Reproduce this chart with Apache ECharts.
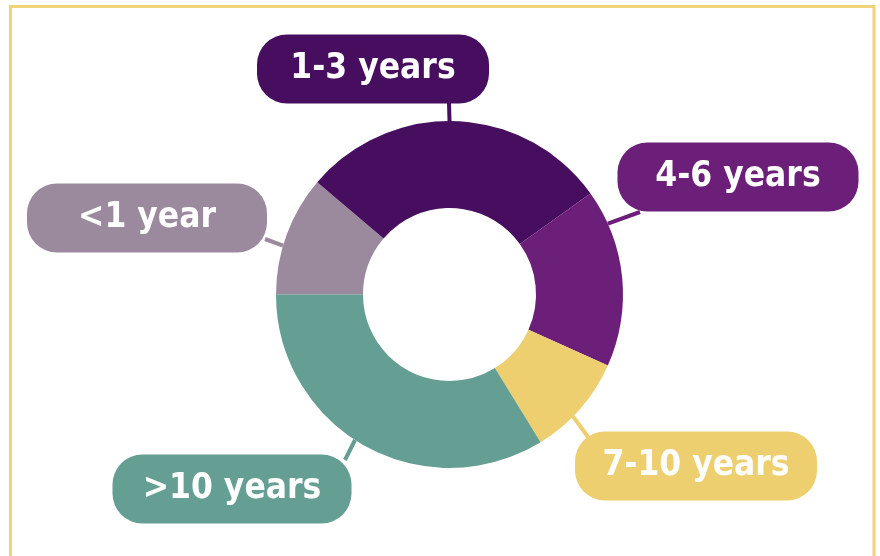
<!DOCTYPE html>
<html>
<head>
<meta charset="utf-8">
<script src="https://cdn.jsdelivr.net/npm/echarts@6/dist/echarts.min.js"></script>
<style>
  html, body { margin: 0; padding: 0; background: #fff; }
  #chart { width: 880px; height: 556px; }
</style>
</head>
<body>
<div id="chart"></div>
<script>
// 数据
var categories = ["<1 year", "1-3 years", "4-6 years", "7-10 years", ">10 years"];
var shares = [11.2, 28.9, 16.6, 9.5, 33.8];
var sliceColors = ["#9b899d", "#470e5f", "#6c1f78", "#edcf6f", "#659e93"];

// 标签框中心位置 / 宽度
var labelCenters = [[147, 218], [373, 69], [738, 177], [696, 466], [232, 489]];
var labelWidths = [240, 232, 241, 242, 239];
// 引导线：圆环外缘上的起点角度(度) 与 标签框上的终点
var lineAngles = [163.6, 90, 24.1, -44.6, -123];
var lineEnds = [[265, 239], [449, 103], [640, 212], [588, 437], [345, 460]];

var pieCenter = [449.5, 294.5];
var radii = [86.5, 173.5];

(function () {
    var myChart = echarts.init(document.getElementById("chart"));

    var pieData = categories.map(function (name, i) {
        return {
            name: name,
            value: shares[i],
            itemStyle: { color: sliceColors[i] },
            label: { backgroundColor: sliceColors[i], width: labelWidths[i] },
        };
    });

    var option = {
        animation: false,
        graphic: [
            {
                type: "rect",
                silent: true,
                shape: { x: 10.5, y: 6.5, width: 863.5, height: 620 },
                style: { fill: "none", stroke: "#f0d27a", lineWidth: 3 },
            },
        ],
        series: [
            {
                type: "pie",
                center: pieCenter,
                radius: radii,
                startAngle: 180,
                clockwise: true,
                avoidLabelOverlap: false,
                silent: true,
                label: {
                    show: true,
                    position: "outside",
                    formatter: "{b}",
                    color: "#fff",
                    fontFamily: "'Liberation Sans Narrow', 'DejaVu Sans Condensed', 'Open Sans', sans-serif",
                    fontWeight: "bold",
                    fontSize: 35,
                    height: 69,
                    lineHeight: 69,
                    align: "center",
                    borderRadius: 30,
                    padding: 0,
                },
                labelLine: {
                    show: true,
                    length: 12,
                    length2: 0,
                    lineStyle: { width: 4 },
                },
                labelLayout: function (params) {
                    var i = params.dataIndex;
                    var c = labelCenters[i];
                    var a = lineAngles[i] * Math.PI / 180;
                    var start = [pieCenter[0] + radii[1] * Math.cos(a), pieCenter[1] - radii[1] * Math.sin(a)];
                    return {
                        x: c[0],
                        y: c[1],
                        align: "center",
                        verticalAlign: "middle",
                        labelLinePoints: [start, lineEnds[i], lineEnds[i]],
                    };
                },
                data: pieData,
            },
        ],
    };

    myChart.setOption(option);
})();
</script>
</body>
</html>
